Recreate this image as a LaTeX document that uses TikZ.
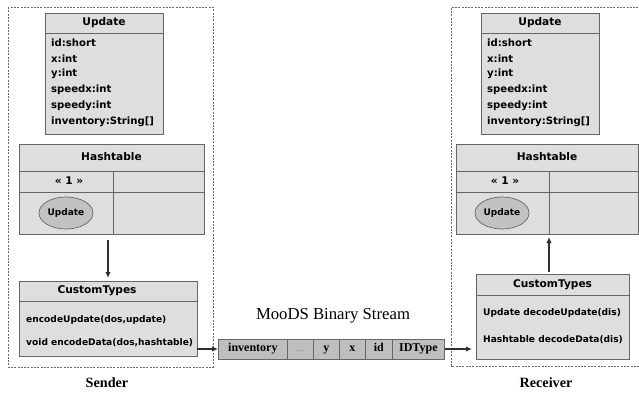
\documentclass[tikz,border=0pt]{standalone}
\usepackage{fontspec}
\setmainfont{Liberation Serif}
\newfontfamily\umlfont{DejaVu Sans}
\usetikzlibrary{arrows.meta,shapes.geometric}

\definecolor{boxfill}{HTML}{DEDEDE}
\definecolor{boxline}{HTML}{666666}
\definecolor{cellfill}{HTML}{BEBEBE}
\definecolor{ovalfill}{HTML}{C2C2C2}
\definecolor{arrowcol}{HTML}{303030}
\definecolor{dashcol}{HTML}{6A6A6A}
\definecolor{dotcol}{HTML}{7A7A7A}

\tikzset{
  umlbox/.style={draw=boxline, fill=boxfill, line width=0.8pt, anchor=north west, inner sep=0pt},
  sepline/.style={draw=boxline, line width=0.8pt},
  title/.style={font=\umlfont\bfseries\fontsize{10.6}{12}\selectfont, inner sep=0pt},
  field/.style={font=\umlfont\bfseries\fontsize{10.1}{12}\selectfont, anchor=west, inner sep=0pt},
  method/.style={font=\umlfont\bfseries\fontsize{9.1}{11}\selectfont, anchor=west, inner sep=0pt},
  oval/.style={ellipse, draw=boxline, fill=ovalfill, line width=0.7pt, minimum width=54pt, minimum height=32pt, inner sep=0pt, font=\umlfont\bfseries\fontsize{9}{10}\selectfont},
  cell/.style={draw=boxline, fill=cellfill, line width=0.7pt, minimum height=20pt, inner sep=0pt, text height=8.2pt, text depth=2.6pt, anchor=west, font=\bfseries\fontsize{12}{14}\selectfont},
  flow/.style={draw=arrowcol, line width=1.3pt, -{Latex[length=6pt,width=5.5pt]}},
  region/.style={draw=dashcol, line width=0.6pt, dash pattern=on 2pt off 1.3pt},
  caption/.style={font=\bfseries\fontsize{14.2}{16}\selectfont, inner sep=0pt}
}

\begin{document}
\begin{tikzpicture}[x=1pt, y=-1pt]
\useasboundingbox (0,0) rectangle (639,392);

% ---------- sender side ----------
\draw[region] (8,7) rectangle (213,367);
\node[caption] (sender) at (107,383) {Sender};

% Update class
\node[umlbox, minimum width=118pt, minimum height=121pt] (updL) at (45,13) {};
\draw[sepline] (45,33) -- (163,33);
\node[title] (updLt) at (104,23) {Update};
\node[field] (l1) at (51,42.5) {id:short};
\node[field] (l2) at (51,58.3) {x:int};
\node[field] (l3) at (51,74.1) {y:int};
\node[field] (l4) at (51,89.9) {speedx:int};
\node[field] (l5) at (51,105.7) {speedy:int};
\node[field] (l6) at (51,121.5) {inventory:String[]};

% Hashtable
\node[umlbox, minimum width=185pt, minimum height=90pt] (hashL) at (19,144) {};
\draw[sepline] (19,171) -- (204,171);
\draw[sepline] (19,192) -- (204,192);
\draw[sepline] (113,171) -- (113,234);
\node[title] (hashLt) at (111.5,157) {Hashtable};
\node[title] (keyL) at (69,181) {« 1 »};
\node[oval] (valL) at (66,213) {Update};

% CustomTypes
\node[umlbox, minimum width=178pt, minimum height=75pt] (ctL) at (19,281) {};
\draw[sepline] (19,301) -- (197,301);
\node[title] (ctLt) at (97,291) {CustomTypes};
\node[method] (m1) at (26,320) {encodeUpdate(dos,update)};
\node[method] (m2) at (26,343) {void encodeData(dos,hashtable)};

\coordinate (hashLout) at (108,240);
\coordinate (ctLin) at (108,278);
\draw[flow] (hashLout) -- (ctLin);

% ---------- binary stream ----------
\node[font=\fontsize{16.7}{19}\selectfont, inner sep=0pt] (streamlbl) at (333,316) {MooDS Binary Stream};
\node[cell, minimum width=69pt] (c1) at (218,349) {inventory};
\node[cell, minimum width=26pt, font=\fontsize{9}{10}\selectfont, text=dotcol] (c2) at (287,349) {\dots};
\node[cell, minimum width=26pt] (c3) at (313,349) {y};
\node[cell, minimum width=26pt] (c4) at (339,349) {x};
\node[cell, minimum width=27pt] (c5) at (365,349) {id};
\node[cell, minimum width=52pt] (c6) at (392,349) {IDType};

\coordinate (ctLout) at (197,349);
\draw[flow] (ctLout) -- (c1.west);

% ---------- receiver side ----------
\draw[region] (645,7) -- (451,7) -- (451,366) -- (645,366);
\node[caption] (receiver) at (546,383) {Receiver};

% Update class
\node[umlbox, minimum width=118pt, minimum height=121pt] (updR) at (481,13) {};
\draw[sepline] (481,33) -- (599,33);
\node[title] (updRt) at (540,23) {Update};
\node[field] (r1) at (487,42.5) {id:short};
\node[field] (r2) at (487,58.3) {x:int};
\node[field] (r3) at (487,74.1) {y:int};
\node[field] (r4) at (487,89.9) {speedx:int};
\node[field] (r5) at (487,105.7) {speedy:int};
\node[field] (r6) at (487,121.5) {inventory:String[]};

% Hashtable
\node[umlbox, minimum width=182pt, minimum height=90pt] (hashR) at (456,144) {};
\draw[sepline] (456,171) -- (638,171);
\draw[sepline] (456,192) -- (638,192);
\draw[sepline] (549,171) -- (549,234);
\node[title] (hashRt) at (547,157) {Hashtable};
\node[title] (keyR) at (505,181) {« 1 »};
\node[oval] (valR) at (502,213) {Update};

% CustomTypes
\node[umlbox, minimum width=153pt, minimum height=85pt] (ctR) at (476,274) {};
\draw[sepline] (476,295) -- (629,295);
\node[title] (ctRt) at (552.5,285) {CustomTypes};
\node[method] (n1) at (483,313) {Update decodeUpdate(dis)};
\node[method] (n2) at (483,340) {Hashtable decodeData(dis)};

\coordinate (ctRout) at (549,272);
\coordinate (hashRin) at (549,237);
\draw[flow] (ctRout) -- (hashRin);

\coordinate (ctRin) at (472,349);
\draw[flow] (c6.east) -- (ctRin);
\end{tikzpicture}
\end{document}
